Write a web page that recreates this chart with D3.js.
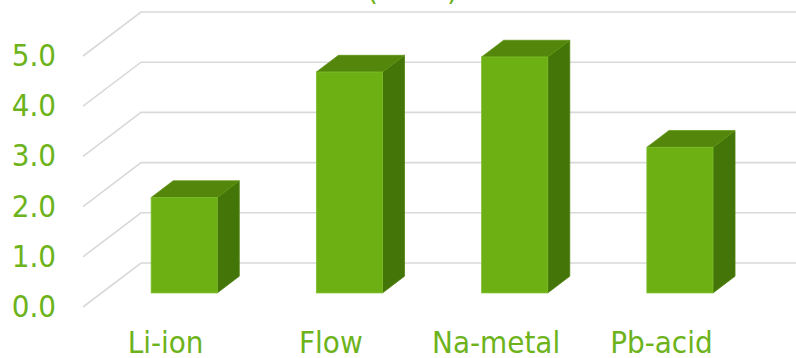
<!DOCTYPE html>
<html>
<head>
<meta charset="utf-8">
<script src="https://cdn.jsdelivr.net/npm/d3@7"></script>
<style>
  body { margin: 0; background: #fff; }
  svg text { font-family: "DejaVu Sans Condensed", "DejaVu Sans", sans-serif; }
</style>
</head>
<body>
<svg id="chart"></svg>
<script>
    // data
    const categories = ["Li-ion", "Flow", "Na-metal", "Pb-acid"];
    const values = [1.9, 4.4, 4.7, 2.9];
    const yTicks = [0, 1, 2, 3, 4, 5];
    const titleText = "Cost (MWh)";

    const width = 796;
    const height = 358;

    const svg = d3.select("#chart")
        .attr("width", width)
        .attr("height", height);

    // 3d-ish setup: wall depth and bar depth offsets
    const wallDx = 58, wallDy = -44;
    const barOffset = 0.32;   // where the bar front sits inside the depth
    const barDepth = 0.38;

    const x = d3.scaleBand()
        .domain(categories)
        .range([83, 744])
        .paddingInner(0.6)
        .paddingOuter(0.3);

    const y = d3.scaleLinear()
        .domain([0, 5])
        .range([307, 56]);

    const textColor = "#6db31b";

    // gridlines: diagonal on the left side + horizontal on the back wall
    const grid = svg.append("g");
    grid.selectAll("path")
        .data(yTicks)
        .enter().append("path")
        .attr("d", d => {
            const x0 = x.range()[0], y0 = y(d);
            return `M${x0},${y0} L${x0 + wallDx},${y0 + wallDy} L${x.range()[1] + wallDx},${y0 + wallDy}`;
        })
        .attr("fill", "none")
        .attr("stroke", "#d9d9d9")
        .attr("stroke-width", 1.6);

    // bars
    const ox = wallDx * barOffset, oy = wallDy * barOffset;
    const dx = wallDx * barDepth, dy = wallDy * barDepth;
    const bars = svg.append("g").selectAll("g")
        .data(categories.map((c, i) => ({ c, v: values[i] })))
        .enter().append("g");

    bars.each(function (d) {
        const g = d3.select(this);
        const x0 = x(d.c) + ox, x1 = x0 + x.bandwidth();
        const yb = y(0) + oy, yt = y(d.v) + oy;
        // side
        g.append("path")
            .attr("d", `M${x1},${yt} L${x1 + dx},${yt + dy} L${x1 + dx},${yb + dy} L${x1},${yb} Z`)
            .attr("fill", "#447509")
            .attr("stroke", "#4f820f").attr("stroke-width", 0.8);
        // top
        g.append("path")
            .attr("d", `M${x0},${yt} L${x0 + dx},${yt + dy} L${x1 + dx},${yt + dy} L${x1},${yt} Z`)
            .attr("fill", "#54860c")
            .attr("stroke", "#5e9412").attr("stroke-width", 0.8);
        // front
        g.append("rect")
            .attr("x", x0)
            .attr("y", yt)
            .attr("width", x.bandwidth())
            .attr("height", yb - yt)
            .attr("fill", "#6cb014")
            .attr("stroke", "#7cbd28").attr("stroke-width", 0.8);
    });

    // y labels
    svg.append("g").selectAll("text")
        .data(yTicks)
        .enter().append("text")
        .attr("x", 56)
        .attr("y", d => y(d) + 10)
        .attr("text-anchor", "end")
        .attr("font-size", 31)
        .attr("fill", textColor)
        .text(d => d3.format(".1f")(d));

    // x labels
    svg.append("g").selectAll("text")
        .data(categories)
        .enter().append("text")
        .attr("x", d => x(d) + x.bandwidth() / 2)
        .attr("y", 353)
        .attr("text-anchor", "middle")
        .attr("font-size", 31)
        .attr("fill", textColor)
        .text(d => d);

    // title (mostly above the visible area)
    svg.append("text")
        .attr("x", 458)
        .attr("y", 0)
        .attr("text-anchor", "end")
        .attr("font-size", 31)
        .attr("fill", textColor)
        .text(titleText);
</script>
</body>
</html>
